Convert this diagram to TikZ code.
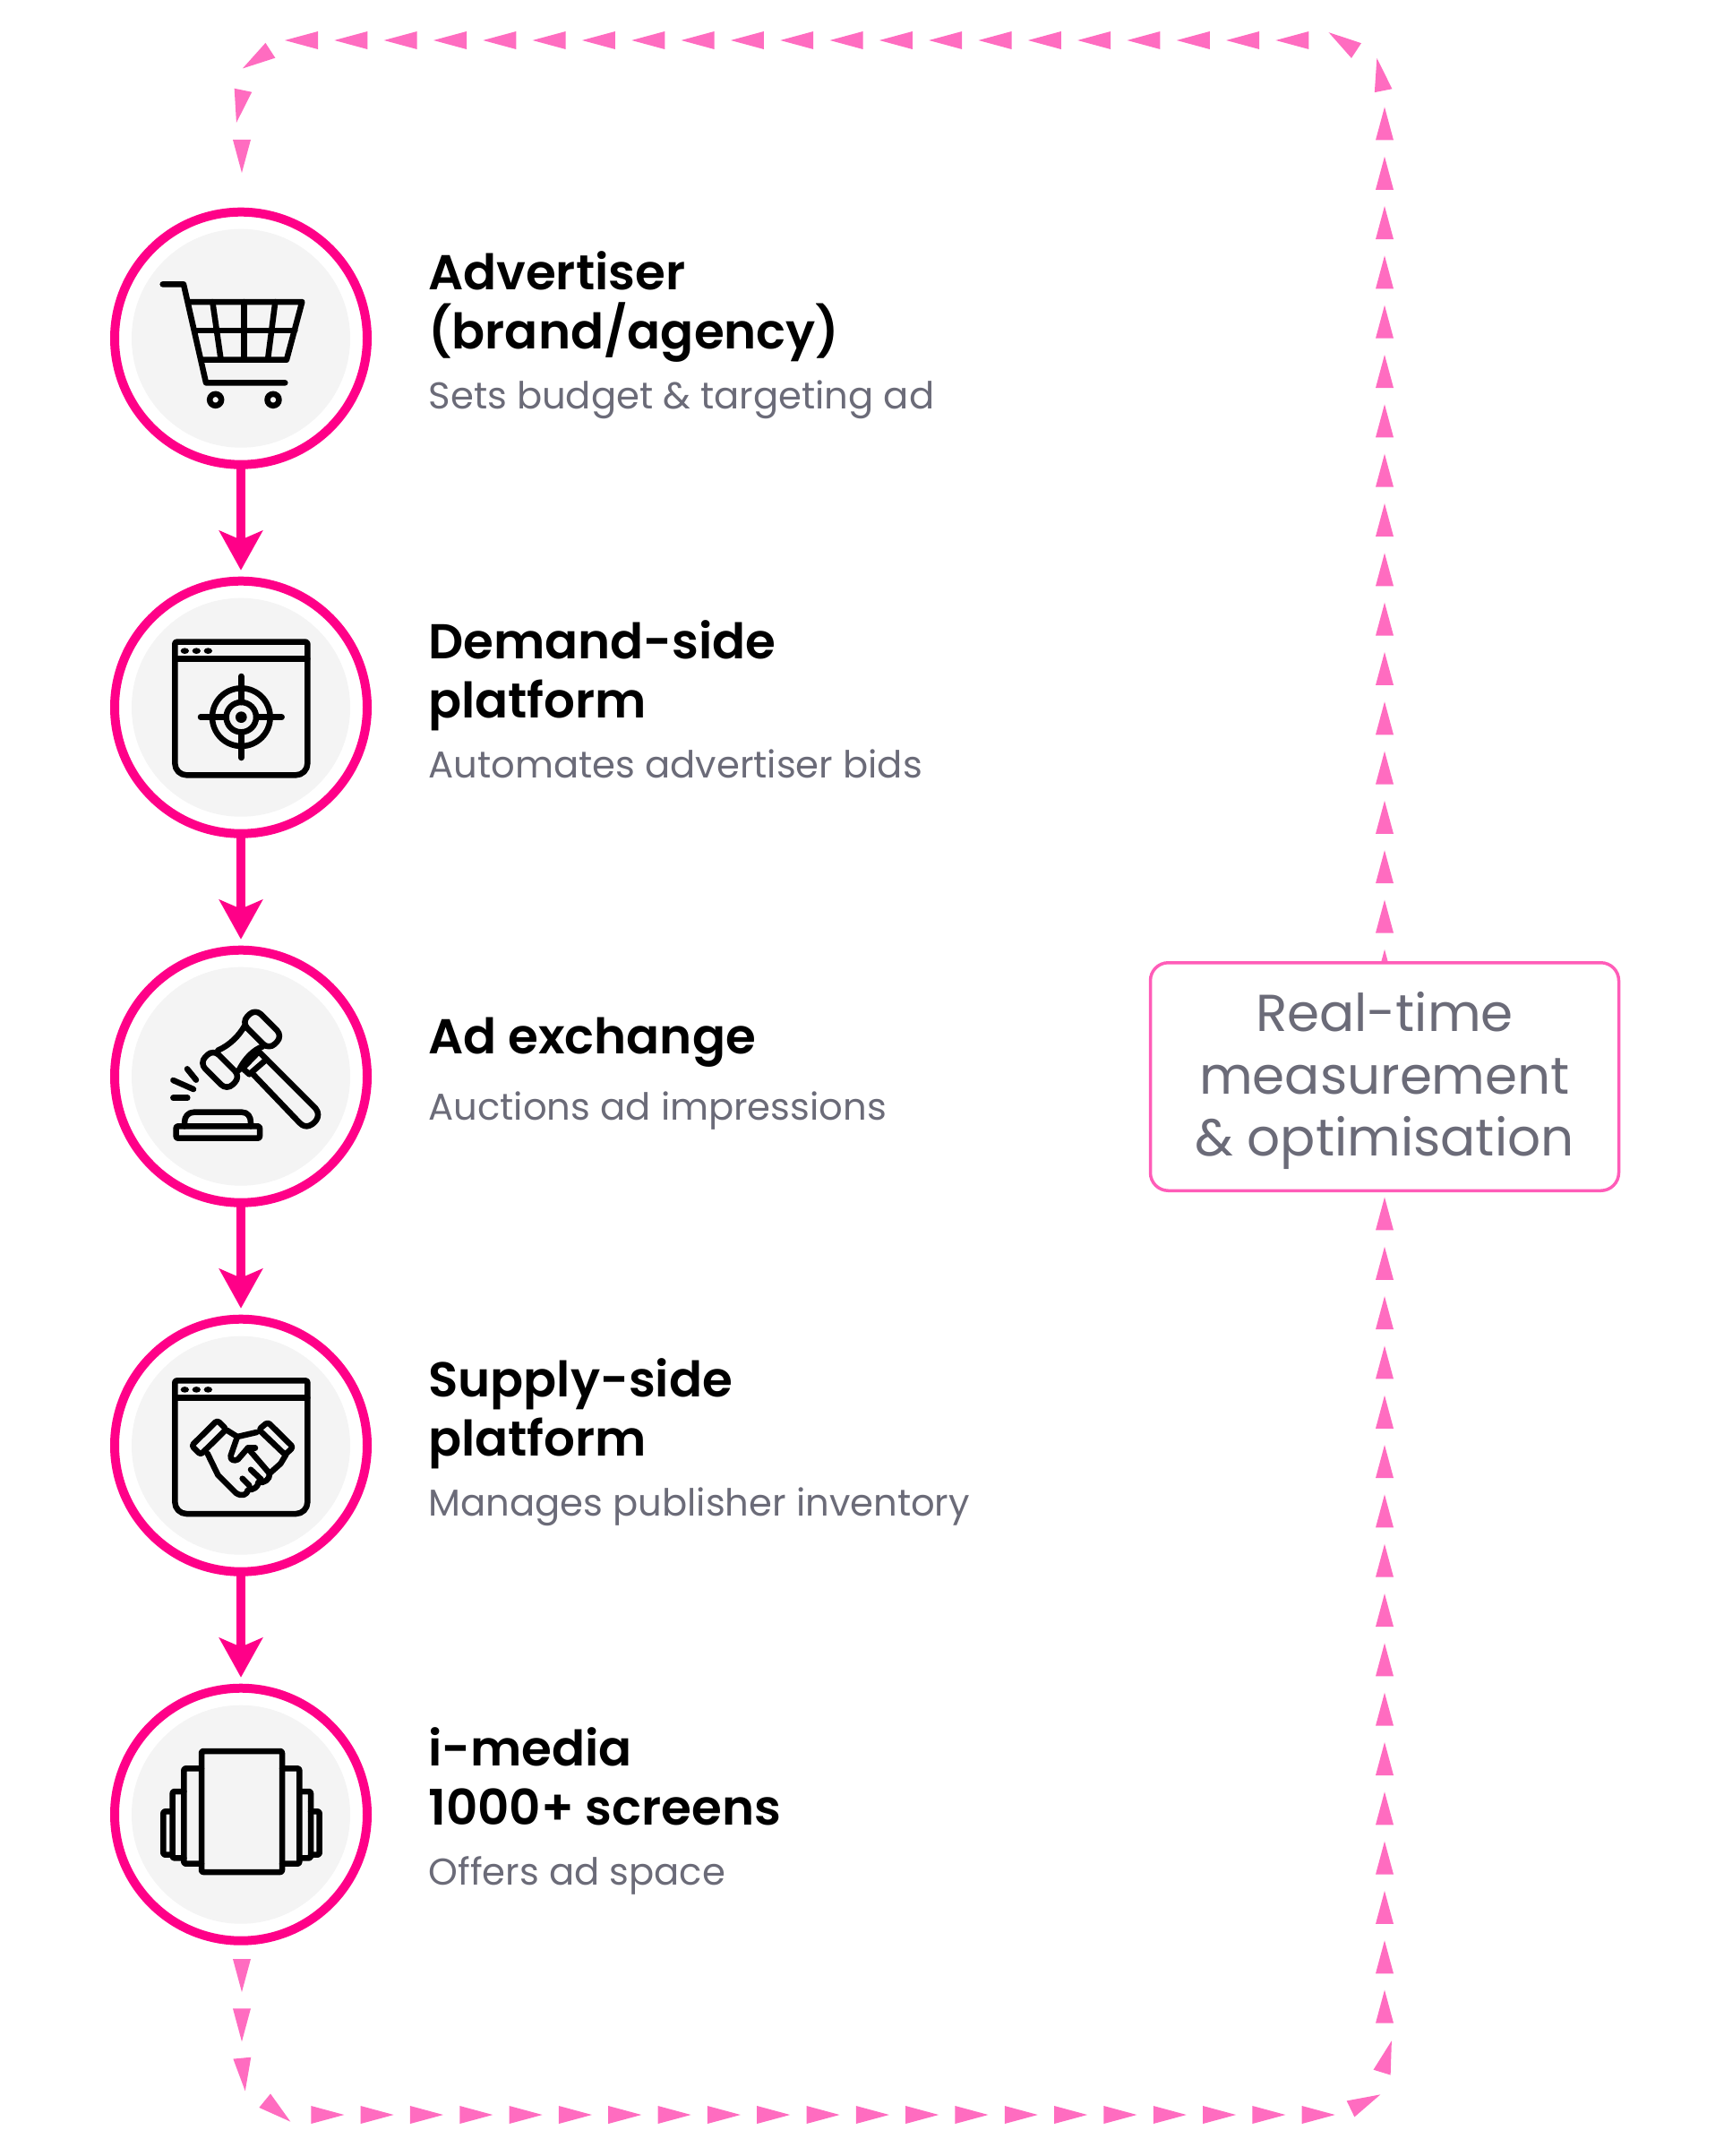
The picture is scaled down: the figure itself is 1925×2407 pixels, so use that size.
\documentclass[tikz,border=0pt]{standalone}
\usepackage{fontspec}
\usetikzlibrary{arrows.meta,decorations.markings}
\setmainfont{Poppins}
\newfontfamily\headfont{Poppins SemiBold}
\definecolor{ringpink}{HTML}{FF0088}
\definecolor{dashpink}{HTML}{FF6CC0}
\definecolor{boxpink}{HTML}{FF5CB8}
\definecolor{softgrey}{HTML}{F4F4F4}
\definecolor{subgrey}{HTML}{6B6B78}
\tikzset{
  ring/.style={circle,draw=ringpink,line width=10pt,fill=white,minimum size=282pt,inner sep=0pt,outer sep=0pt},
  core/.style={circle,fill=softgrey,minimum size=244pt,inner sep=0pt},
  flow/.style={ringpink,line width=10pt,shorten >=12pt,-{Stealth[length=44pt,width=48pt,inset=10pt]}},
  headtext/.style={anchor=north west,inner sep=0pt,align=left,font=\headfont\fontsize{54.7}{65.5}\selectfont},
  subtext/.style={anchor=base west,inner sep=0pt,text=subgrey,font=\fontsize{41.7}{50}\selectfont},
  icon/.style={black,line width=6.5pt,line cap=round,line join=round},
  zoomed/.style={x=0.33333pt,y=-0.33333pt},
  dashloop/.style={decorate,decoration={markings,
    mark=between positions 0 and 1 step 55.32pt with {\fill[dashpink,sharp corners] (0pt,-10pt) -- (37pt,0pt) -- (0pt,10pt) -- cycle;}}},
}
\newcommand{\browserwin}{
  \draw[icon] (286,400) [rounded corners=2pt] -- (286,260) -- (730,260) -- (730,400) [rounded corners=13pt] -- (730,706) -- (286,706) -- cycle;
  \draw[icon] (286,317) -- (730,317);
  \fill (319,290) ellipse (14 and 10);
  \fill (358,290) ellipse (14 and 10);
  \fill (397,290) ellipse (14 and 10);
}
\begin{document}
\begin{tikzpicture}[x=1pt,y=-1pt]
\useasboundingbox (0,0) rectangle (1925,2407);

% the loop behind everything
\coordinate (loopstart) at (270,2187);
\coordinate (loopend) at (270,193);
\path[dashloop,rounded corners=70pt] (loopstart) -- (270,2361) [rounded corners=67pt] -- (1546,2361) [rounded corners=70pt] -- (1546,45) -- (270,45) -- (loopend);

\node[ring] (advertiser) at (269,377.7) {};
\node[ring] (demand) at (269,789.7) {};
\node[ring] (exchange) at (269,1201.7) {};
\node[ring] (supply) at (269,1613.7) {};
\node[ring] (imedia) at (269,2025.7) {};
\node[core] (advertisercore) at (advertiser) {};
\node[core] (demandcore) at (demand) {};
\node[core] (exchangecore) at (exchange) {};
\node[core] (supplycore) at (supply) {};
\node[core] (imediacore) at (imedia) {};

\draw[flow] (advertiser) -- (demand);
\draw[flow] (demand) -- (exchange);
\draw[flow] (exchange) -- (supply);
\draw[flow] (supply) -- (imedia);

\node[headtext] (advertiserhead) at (478,280.5) {Advertiser\\(brand/agency)};
\node[subtext] (advertisersub) at (478.5,456) {Sets budget \& targeting ad};
\node[headtext] (demandhead) at (478,692.5) {Demand-side\\platform};
\node[subtext] (demandsub) at (478.5,868) {Automates advertiser bids};
\node[headtext] (exchangehead) at (478,1135.5) {Ad exchange};
\node[subtext] (exchangesub) at (478.5,1250) {Auctions ad impressions};
\node[headtext] (supplyhead) at (478,1516.5) {Supply-side\\platform};
\node[subtext] (supplysub) at (478.5,1692) {Manages publisher inventory};
\node[headtext] (imediahead) at (478,1928.5) {i-media\\1000+ screens};
\node[subtext] (imediasub) at (478.5,2104) {Offers ad space};

\node[draw=boxpink,line width=3.5pt,fill=white,rounded corners=20pt,minimum width=523pt,minimum height=254.5pt] (measure) at (1546,1202) {};
\node[align=center,text=subgrey,font=\fontsize{58}{69.5}\selectfont] (measuretext) at (1546,1206.5) {Real-time\\measurement\\\& optimisation};

% cart
\begin{scope}[shift={(100,210)},zoomed]
\draw[icon] (245,322) -- (315,322) -- (390,652) -- (655,652);
\draw[icon] (330,381) -- (712,381) -- (660,575) -- (380,575);
\draw[icon] (355,477) -- (688,477);
\draw[icon] (412,381) -- (440,575);
\draw[icon] (518,381) -- (518,575);
\draw[icon] (622,381) -- (597,575);
\draw[icon] (422,709) circle (19.5);
\draw[icon] (615,709) circle (19.5);
\end{scope}

% target
\begin{scope}[shift={(100,630)},zoomed]
\browserwin
\draw[icon] (508,512) circle (97);
\draw[icon] (508,512) circle (50);
\fill (508,512) circle (19);
\draw[icon] (508,375) -- (508,462);
\draw[icon] (508,562) -- (508,648);
\draw[icon] (372,512) -- (458,512);
\draw[icon] (558,512) -- (644,512);
\end{scope}

% gavel
\begin{scope}[shift={(100,1040)},zoomed]
\draw[icon,rounded corners=9pt] (555,258) -- (647,350) -- (601,396) -- (509,304) -- cycle;
\draw[icon,rounded corners=9pt] (414,394) -- (506,486) -- (460,532) -- (368,440) -- cycle;
\draw[icon] (520,315) .. controls (500,350) and (470,380) .. (430,398);
\draw[icon] (580,385) .. controls (550,395) and (520,425) .. (500,465);
\draw[icon] (567,402) -- (593,428) -- (535,478) -- (513,458) -- cycle;
\draw[icon] (593,428) -- (757,592) .. controls (780,620) and (750,650) .. (728,652) .. controls (715,652) and (708,645) .. (703,640) -- (545,475);
\draw[icon] (280,498) -- (348,528);
\draw[icon] (327,460) -- (357,497);
\draw[icon] (280,557) -- (328,557);
\draw[icon,rounded corners=2pt] (290,652) rectangle (570,692);
\draw[icon] (318,652) -- (318,640) .. controls (318,620) and (330,605) .. (350,605) -- (510,605) .. controls (530,605) and (540,620) .. (540,640) -- (540,652);
\end{scope}

% handshake
\begin{scope}[shift={(100,1454.7)},zoomed]
\browserwin
\end{scope}
\begin{scope}[shift={(100,1450)},zoomed]
\draw[icon,rounded corners=3pt] (428,407) -- (458,437) -- (372,522) -- (342,492) -- cycle;
\draw[icon,rounded corners=3pt] (597,413) -- (682,497) -- (655,522) -- (567,438) -- cycle;
\draw[icon] (395,518) -- (430,590) -- (490,650) .. controls (510,665) and (530,655) .. (530,640) .. controls (550,640) and (565,630) .. (565,615) .. controls (585,618) and (605,605) .. (603,585) -- (640,552) -- (658,522);
\draw[icon] (460,440) -- (495,462) -- (560,447);
\draw[icon] (603,585) -- (530,500) -- (497,538) .. controls (485,545) and (470,540) .. (473,525) -- (495,462);
\draw[icon] (530,500) -- (555,500);
\draw[icon] (512,602) -- (535,625);
\draw[icon] (540,572) -- (575,605);
\end{scope}

% screens
\begin{scope}[shift={(100,1860)},zoomed]
\draw[icon,rounded corners=2pt] (375,285) rectangle (645,690);
\draw[icon,rounded corners=2pt] (375,343) -- (316,343) -- (316,662) -- (375,662);
\draw[icon,rounded corners=2pt] (316,420) -- (278,420) -- (278,643) -- (316,643);
\draw[icon,rounded corners=2pt] (278,487) -- (247,487) -- (247,632) -- (278,632);
\draw[icon,rounded corners=2pt] (645,343) -- (703,343) -- (703,662) -- (645,662);
\draw[icon,rounded corners=2pt] (703,420) -- (741,420) -- (741,643) -- (703,643);
\draw[icon,rounded corners=2pt] (741,487) -- (770,487) -- (770,632) -- (741,632);
\end{scope}
\end{tikzpicture}
\end{document}
